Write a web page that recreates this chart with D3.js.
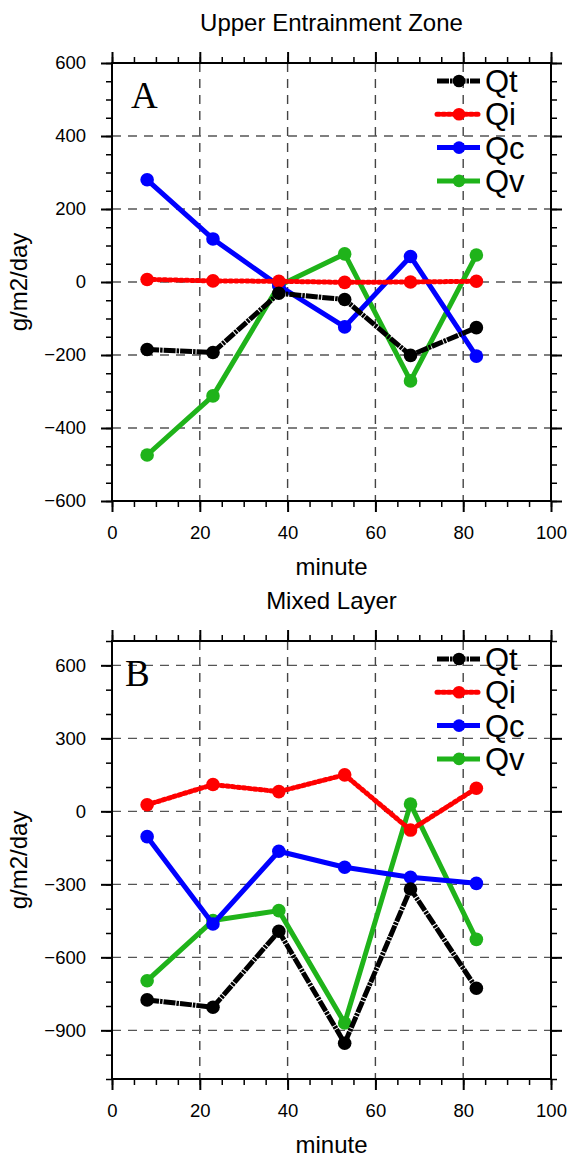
<!DOCTYPE html>
<html>
<head>
<meta charset="utf-8">
<script src="https://cdn.jsdelivr.net/npm/d3@7"></script>
<style>
  body { margin: 0; background: #fff; }
  svg { display: block; }
  text { font-family: "Liberation Sans", Arial, sans-serif; fill: #000; }
</style>
</head>
<body>
<svg id="chart" width="569" height="1157"></svg>
<script>
// x positions (minutes)
const minutes = [8, 23, 38, 53, 68, 83];
const seriesNames = ["Qt", "Qi", "Qc", "Qv"];
const seriesColors = ["#000000", "#ff0000", "#0000ff", "#1fb31a"];
const seriesDash = ["12,1,2.5,1", "2.5,3", null, null];
const seriesCap = ["butt", "round", "butt", "butt"];

// panel A: upper entrainment zone
const qtA = [-185, -193, -31, -48, -201, -125];
const qiA = [7, 3, 2, -1, 0, 2];
const qcA = [280, 118, -10, -123, 70, -203];
const qvA = [-474, -312, -10, 77, -271, 74];

// panel B: mixed layer
const qtB = [-775, -805, -493, -953, -319, -727];
const qiB = [27, 110, 81, 150, -77, 95];
const qcB = [-104, -463, -164, -230, -271, -296];
const qvB = [-696, -449, -408, -870, 30, -526];

const xTicks = [0, 20, 40, 60, 80, 100];
const xMinor = d3.range(0, 101, 5);
const yTicksA = [-600, -400, -200, 0, 200, 400, 600];
const yMinorA = d3.range(-600, 601, 50);
const yTicksB = [-900, -600, -300, 0, 300, 600];
const yMinorB = d3.range(-1100, 701, 100);

const panels = [
  { title: "Upper Entrainment Zone", letter: "A", letterX: 131, top: 63,
    domain: [-600, 600], ticks: yTicksA, minor: yMinorA, data: [qtA, qiA, qcA, qvA] },
  { title: "Mixed Layer", letter: "B", letterX: 125, top: 641,
    domain: [-1100, 700], ticks: yTicksB, minor: yMinorB, data: [qtB, qiB, qcB, qvB] }
];

const svg = d3.select("#chart");
const left = 112, w = 439, h = 438;

panels.forEach(p => {
  const g = svg.append("g").attr("transform", "translate(" + left + "," + p.top + ")");

  const x = d3.scaleLinear().domain([0, 100]).range([0, w]);
  const y = d3.scaleLinear().domain(p.domain).range([h, 0]);

  // dashed grid
  g.append("g")
    .selectAll("line")
    .data(xTicks.filter(d => d > 0 && d < 100))
    .enter().append("line")
      .attr("x1", d => x(d)).attr("x2", d => x(d))
      .attr("y1", 0).attr("y2", h)
      .attr("stroke", "#444").attr("stroke-width", 1.4)
      .attr("stroke-dasharray", "9,7");

  g.append("g")
    .selectAll("line")
    .data(p.ticks.filter(d => d > p.domain[0] && d < p.domain[1]))
    .enter().append("line")
      .attr("x1", 0).attr("x2", w)
      .attr("y1", d => y(d)).attr("y2", d => y(d))
      .attr("stroke", "#555").attr("stroke-width", 1.4)
      .attr("stroke-dasharray", "9,7");

  // minor ticks (outward, all four sides)
  const minorBottom = d3.axisBottom(x).tickValues(xMinor).tickSize(6).tickFormat("");
  const minorTop = d3.axisTop(x).tickValues(xMinor).tickSize(6).tickFormat("");
  const minorLeft = d3.axisLeft(y).tickValues(p.minor).tickSize(6).tickFormat("");
  const minorRight = d3.axisRight(y).tickValues(p.minor).tickSize(6).tickFormat("");

  g.append("g").attr("transform", "translate(0," + h + ")").call(minorBottom);
  g.append("g").call(minorTop);
  g.append("g").call(minorLeft);
  g.append("g").attr("transform", "translate(" + w + ",0)").call(minorRight);

  // major ticks
  const bottomAxis = d3.axisBottom(x).tickValues(xTicks).tickSize(11).tickPadding(14).tickSizeOuter(0);
  const topAxis = d3.axisTop(x).tickValues(xTicks).tickSize(11).tickFormat("").tickSizeOuter(0);
  const leftAxis = d3.axisLeft(y).tickValues(p.ticks).tickSize(11).tickPadding(15).tickSizeOuter(0);
  const rightAxis = d3.axisRight(y).tickValues(p.ticks).tickSize(11).tickFormat("").tickSizeOuter(0);

  g.append("g").attr("class", "major").attr("transform", "translate(0," + h + ")").call(bottomAxis);
  g.append("g").attr("class", "major").call(topAxis);
  g.append("g").attr("class", "major").call(leftAxis);
  g.append("g").attr("class", "major").attr("transform", "translate(" + w + ",0)").call(rightAxis);

  g.selectAll(".domain").remove();
  g.selectAll(".tick line").attr("stroke", "#000").attr("stroke-width", 1.5);
  g.selectAll(".major .tick line").attr("stroke-width", 2);
  g.selectAll(".tick text")
    .style("font-family", "'Liberation Sans', Arial, sans-serif")
    .style("font-size", "18.5px")
    .attr("fill", "#000");

  // series, drawn last-first so Qt sits on top
  const line = d3.line().x((d, i) => x(minutes[i])).y(d => y(d));
  for (let s = seriesNames.length - 1; s >= 0; s--) {
    const sg = g.append("g");
    sg.append("path")
      .datum(p.data[s])
      .attr("d", line)
      .attr("fill", "none")
      .attr("stroke", seriesColors[s])
      .attr("stroke-width", 5)
      .attr("stroke-linejoin", "round")
      .attr("stroke-linecap", seriesCap[s])
      .attr("stroke-dasharray", seriesDash[s]);
    sg.selectAll("circle")
      .data(p.data[s])
      .enter().append("circle")
        .attr("cx", (d, i) => x(minutes[i]))
        .attr("cy", d => y(d))
        .attr("r", 6.8)
        .attr("fill", seriesColors[s]);
  }

  // frame
  g.append("rect")
    .attr("width", w).attr("height", h)
    .attr("fill", "none").attr("stroke", "#000").attr("stroke-width", 2);

  // legend
  const legend = g.append("g");
  seriesNames.forEach((name, s) => {
    const ly = 18 + s * 33.3;
    legend.append("line")
      .attr("x1", 325).attr("x2", 368)
      .attr("y1", ly).attr("y2", ly)
      .attr("stroke", seriesColors[s]).attr("stroke-width", 5)
      .attr("stroke-linecap", seriesCap[s])
      .attr("stroke-dasharray", seriesDash[s]);
    legend.append("circle")
      .attr("cx", 347).attr("cy", ly).attr("r", 6.3)
      .attr("fill", seriesColors[s]);
    legend.append("text")
      .attr("x", 373).attr("y", ly + 11)
      .style("font-size", "31px")
      .text(name);
  });

  // panel letter
  svg.append("text")
    .attr("x", p.letterX).attr("y", p.top + 45)
    .style("font-family", "'Liberation Serif', 'Times New Roman', serif")
    .style("font-size", "37px")
    .text(p.letter);

  // title
  svg.append("text")
    .attr("x", left + w / 2).attr("y", p.top - 32)
    .attr("text-anchor", "middle")
    .style("font-size", "24px")
    .text(p.title);

  // x label
  svg.append("text")
    .attr("x", left + w / 2).attr("y", p.top + h + 74)
    .attr("text-anchor", "middle")
    .style("font-size", "24px")
    .text("minute");

  // y label
  svg.append("text")
    .attr("transform", "translate(27," + (p.top + h / 2) + ")rotate(-90)")
    .attr("text-anchor", "middle")
    .style("font-size", "24px")
    .text("g/m2/day");
});
</script>
</body>
</html>
